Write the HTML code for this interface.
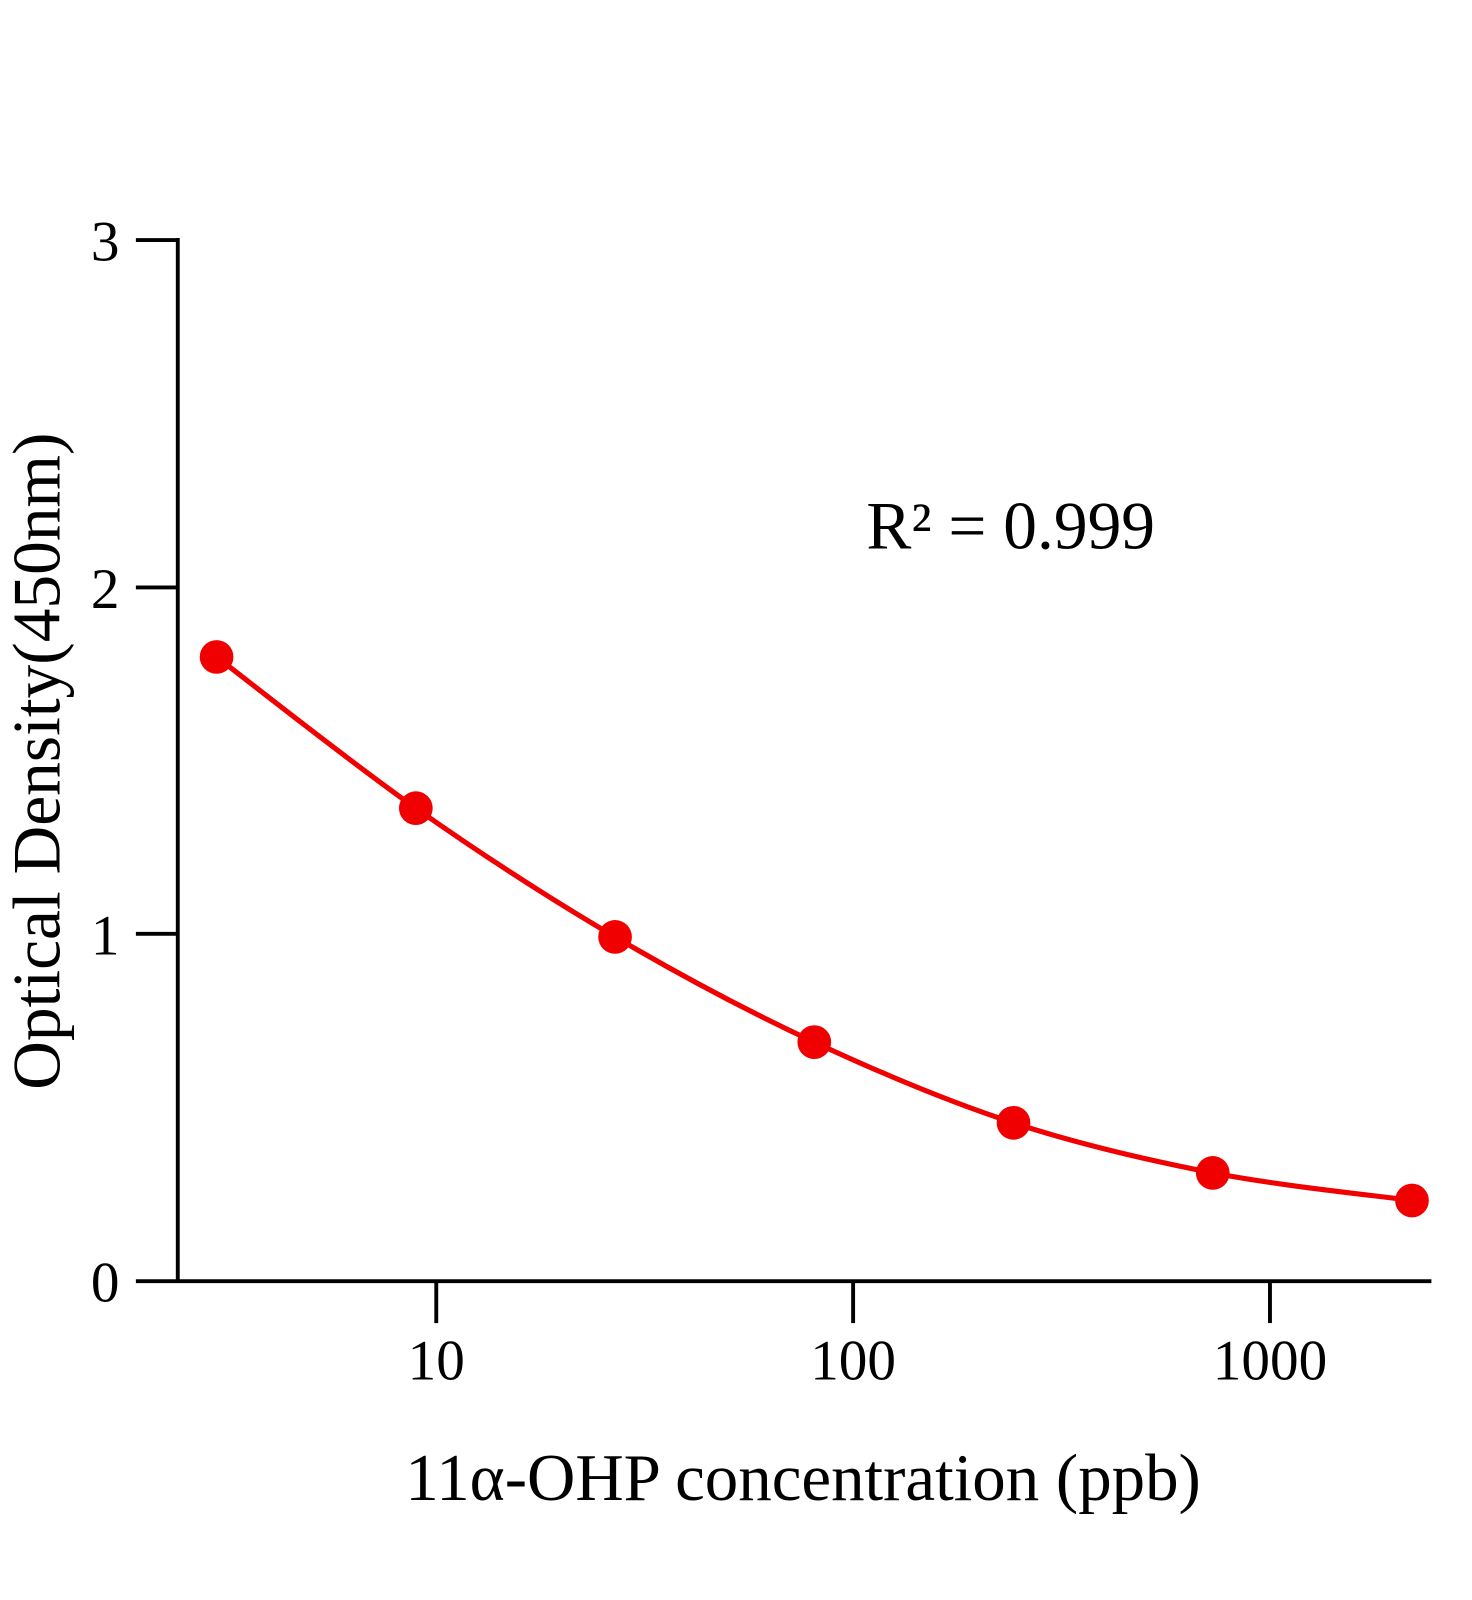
<!DOCTYPE html>
<html><head><meta charset="utf-8"><style>
html,body{margin:0;padding:0;background:#fff;}
svg{display:block;}
text{font-family:"Liberation Serif","DejaVu Serif",serif;fill:#000;}
</style></head><body>
<svg width="1472" height="1600" viewBox="0 0 1472 1600" xmlns="http://www.w3.org/2000/svg">
<g transform="scale(1.0217)">
<g stroke="#000" stroke-width="3.8" fill="none">
<line x1="174" y1="233" x2="174" y2="1254"/>
<line x1="133" y1="1254" x2="1401" y2="1254"/>
<line x1="133" y1="235" x2="174" y2="235"/>
<line x1="133" y1="575" x2="174" y2="575"/>
<line x1="133" y1="914" x2="174" y2="914"/>
<line x1="427" y1="1254" x2="427" y2="1295"/>
<line x1="835" y1="1254" x2="835" y2="1295"/>
<line x1="1243" y1="1254" x2="1243" y2="1295"/>
</g>
<g font-size="56" text-anchor="end">
<text x="117" y="255">3</text>
<text x="117" y="595">2</text>
<text x="117" y="934">1</text>
<text x="117" y="1274">0</text>
</g>
<g font-size="56" text-anchor="middle">
<text x="427" y="1350">10</text>
<text x="835" y="1350">100</text>
<text x="1243" y="1350">1000</text>
</g>
<text x="786" y="1468" font-size="65.5" text-anchor="middle">11α-OHP concentration (ppb)</text>
<text transform="translate(58,745) rotate(-90)" font-size="66" text-anchor="middle">Optical Density(450nm)</text>
<text x="848" y="537" font-size="66">R² = 0.999</text>
<path d="M212,643 C244.5,667.7 342,745.3 407,791 C472,836.7 537,878.8 602,917 C667,955.2 732,989.7 797,1020 C862,1050.3 927,1077.7 992,1099 C1057,1120.3 1122,1135.3 1187,1148 C1252,1160.7 1349.5,1170.5 1382,1175" stroke="#f00000" stroke-width="5" fill="none"/>
<g fill="#f00000">
<circle cx="212" cy="643" r="16.5"/>
<circle cx="407" cy="791" r="16.5"/>
<circle cx="602" cy="917" r="16.5"/>
<circle cx="797" cy="1020" r="16.5"/>
<circle cx="992" cy="1099" r="16.5"/>
<circle cx="1187" cy="1148" r="16.5"/>
<circle cx="1382" cy="1175" r="16.5"/>
</g>
</g>
</svg>
</body></html>
